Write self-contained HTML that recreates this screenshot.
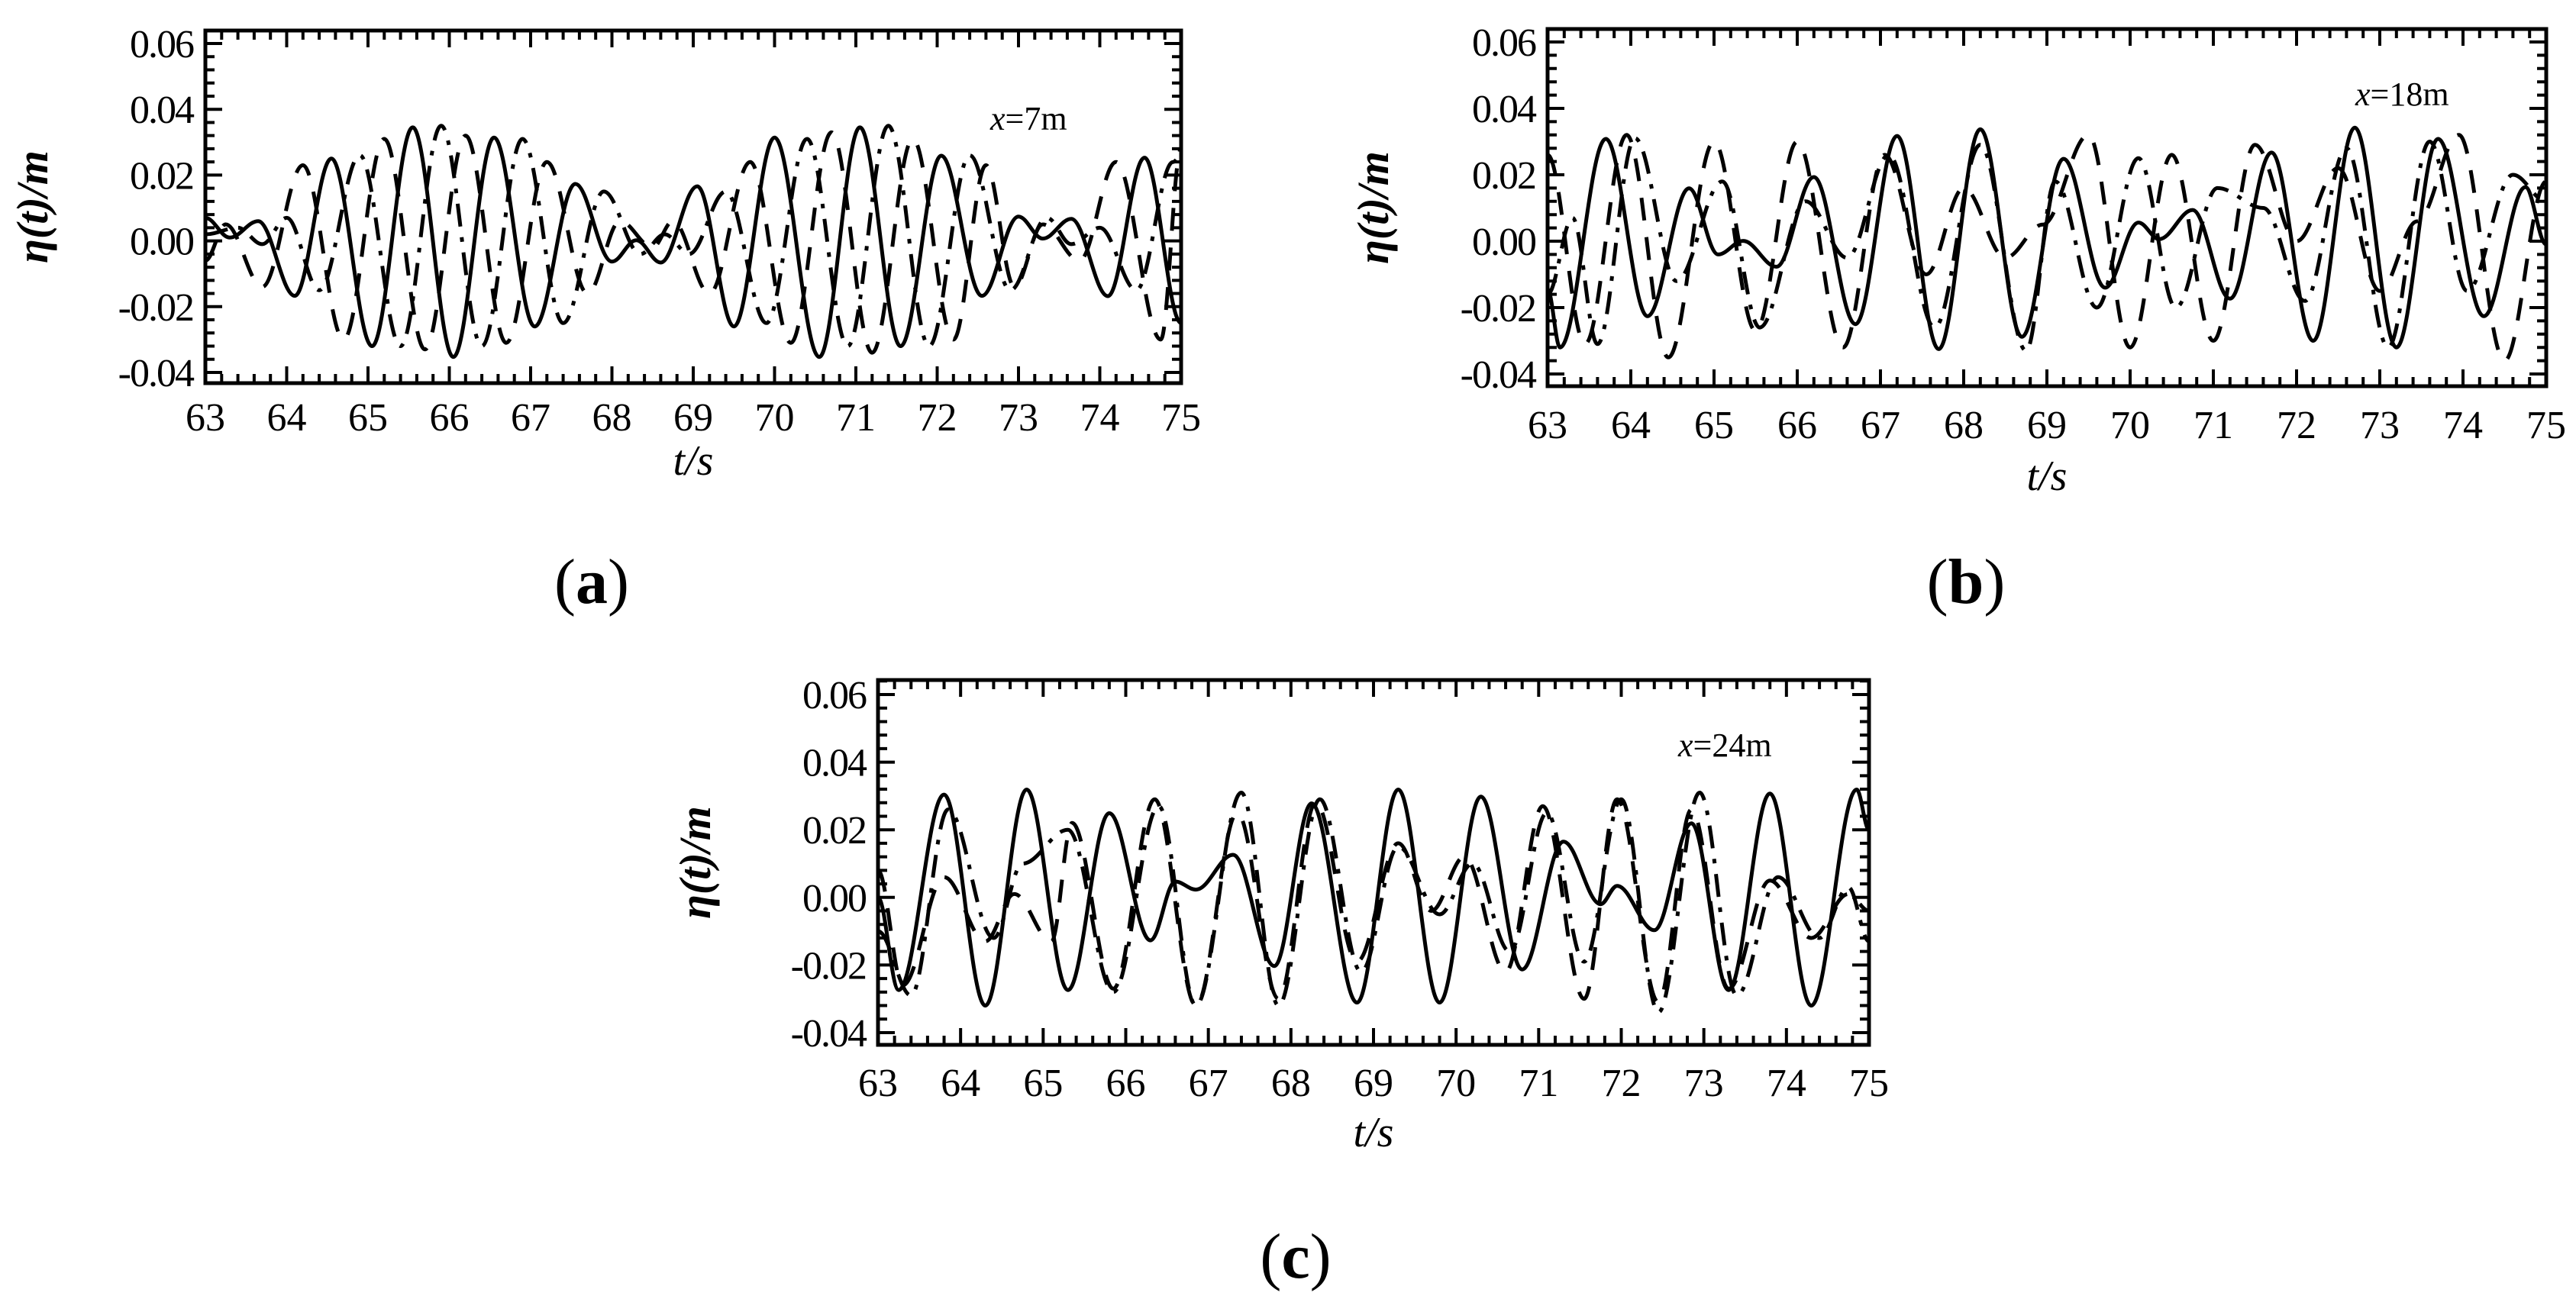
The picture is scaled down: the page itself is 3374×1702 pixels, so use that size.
<!DOCTYPE html>
<html><head><meta charset="utf-8"><style>
html,body{margin:0;padding:0;background:#fff;}
svg{display:block;}
text{font-family:"Liberation Serif",serif;fill:#000;}
</style></head><body>
<svg id="fig" width="3374" height="1702" viewBox="0 0 3374 1702" xmlns="http://www.w3.org/2000/svg"></svg>
<script>
// ---- panel (a) x=7m ----
const aSolidT=[63,63.3,63.65,64.1,64.55,65.05,65.55,66.05,66.55,67.05,67.55,68.0,68.3,68.6,69.05,69.5,70.0,70.55,71.05,71.55,72.05,72.55,73.0,73.3,73.65,74.1,74.55,75.0];
const aSolidV=[0.007,0.001,0.006,-0.0167,0.025,-0.032,0.0345,-0.0353,0.0314,-0.026,0.0173,-0.0063,0.0002,-0.0066,0.0166,-0.026,0.0314,-0.0353,0.0345,-0.032,0.0259,-0.0167,0.0074,0.0007,0.0067,-0.0168,0.0253,-0.025];
const aDashT=[63,63.25,63.7,64.2,64.7,65.2,65.7,66.2,66.7,67.2,67.7,68.1,68.5,68.75,69.2,69.7,70.2,70.7,71.2,71.7,72.2,72.6,72.95,73.3,73.75,74.2,74.75,75];
const aDashV=[-0.006,0.005,-0.014,0.023,-0.030,0.031,-0.033,0.032,-0.031,0.024,-0.016,0.006,-0.002,0.006,-0.016,0.024,-0.031,0.033,-0.034,0.031,-0.030,0.023,-0.014,0.005,-0.006,0.024,-0.030,0.028];
const aDotT=[63,63.4,63.7,64.0,64.4,64.9,65.4,65.9,66.4,66.9,67.4,67.9,68.35,68.65,68.95,69.4,69.9,70.4,70.9,71.4,71.9,72.4,72.9,73.35,73.65,74.0,74.45,74.9,75];
const aDotV=[0.002,0.004,-0.001,0.007,-0.015,0.026,-0.032,0.035,-0.032,0.031,-0.025,0.015,-0.004,0.002,-0.004,0.015,-0.025,0.031,-0.032,0.035,-0.032,0.026,-0.015,0.007,-0.001,0.004,-0.015,0.024,0.026];
// ---- panel (b) x=18m ----
const bSolidT=[63,63.15,63.7,64.2,64.7,65.05,65.35,65.75,66.2,66.7,67.2,67.7,68.2,68.7,69.2,69.7,70.1,70.35,70.75,71.2,71.7,72.2,72.7,73.2,73.7,74.25,74.75,75];
const bSolidV=[-0.0145,-0.032,0.0308,-0.0226,0.0159,-0.004,0.0001,-0.0077,0.0193,-0.025,0.0317,-0.0325,0.0337,-0.0288,0.0248,-0.014,0.0056,0.0006,0.0094,-0.0173,0.0267,-0.030,0.0342,-0.032,0.0308,-0.0226,0.0163,-0.001];
const bDashT=[63,63.45,63.95,64.45,65.0,65.5,66.0,66.55,67.05,67.55,68.0,68.5,68.95,69.5,70.0,70.5,71.0,71.5,72.0,72.5,73.0,73.45,73.95,74.5,75];
const bDashV=[0.026,-0.031,0.032,-0.035,0.030,-0.027,0.030,-0.032,0.026,-0.010,0.016,-0.005,0.005,0.032,-0.032,0.026,-0.030,0.029,0.000,0.022,-0.015,0.006,0.032,-0.036,0.018];
const bDotT=[63,63.3,63.6,64.05,64.55,65.1,65.55,66.1,66.6,67.1,67.65,68.2,68.75,69.1,69.6,70.1,70.55,71.05,71.6,72.1,72.6,73.1,73.6,74.05,74.6,75];
const bDotV=[-0.016,0.007,-0.031,0.031,-0.012,0.018,-0.026,0.012,-0.005,0.026,-0.026,0.029,-0.033,0.018,-0.020,0.025,-0.020,0.016,0.010,-0.018,0.028,-0.032,0.030,-0.015,0.020,0.012];
// ---- panel (c) x=24m ----
const cSolidT=[63,63.25,63.8,64.3,64.8,65.3,65.8,66.3,66.6,66.85,67.3,67.8,68.25,68.8,69.3,69.8,70.3,70.8,71.3,71.75,71.95,72.4,72.85,73.3,73.8,74.3,74.85,75];
const cSolidV=[0.0,-0.0274,0.0304,-0.032,0.0319,-0.0274,0.0249,-0.0127,0.0047,0.0023,0.0126,-0.0203,0.0278,-0.0311,0.0319,-0.0311,0.0298,-0.0213,0.0165,-0.002,0.0034,-0.0097,0.0219,-0.0274,0.0307,-0.032,0.0319,0.02];
const cDashT=[63,63.3,63.8,64.3,64.65,65.1,65.35,65.85,66.35,66.85,67.35,67.85,68.3,68.8,69.3,69.7,70.1,70.6,71.05,71.55,71.95,72.45,72.85,73.3,73.8,74.3,74.75,75];
const cDashV=[0.008,-0.026,0.006,-0.013,0.001,-0.013,0.022,-0.027,0.029,-0.032,0.025,-0.030,0.028,-0.019,0.016,-0.004,0.012,-0.022,0.027,-0.030,0.029,-0.031,0.026,-0.027,0.005,-0.012,0.001,-0.004];
const cDotT=[63,63.4,63.85,64.4,64.75,65.3,65.85,66.4,66.85,67.4,67.85,68.35,68.85,69.3,69.8,70.2,70.65,71.1,71.55,72.0,72.45,72.95,73.4,73.9,74.4,74.75,75];
const cDotV=[-0.010,-0.029,0.026,-0.012,0.010,0.020,-0.028,0.027,-0.032,0.031,-0.032,0.029,-0.022,0.015,-0.005,0.010,-0.016,0.025,-0.019,0.029,-0.034,0.031,-0.029,0.006,-0.012,0.003,-0.013];

const xTicks=[63,64,65,66,67,68,69,70,71,72,73,74,75];
const yTicks=[-0.04,-0.02,0.00,0.02,0.04,0.06];
const yTickLabels=["-0.04","-0.02","0.00","0.02","0.04","0.06"];

const NS="http://www.w3.org/2000/svg";
const svg=document.getElementById('fig');
function mk(tag,attrs,parent){const e=document.createElementNS(NS,tag);for(const k in attrs)e.setAttribute(k,attrs[k]);(parent||svg).appendChild(e);return e;}

const panels=[
 {id:'a',label:'x',lab2:'=7m',L:269,R:1547,T:40,B:502,y06:57,y04:488,tickY:546,titleY:622,capX:775,capY:790,ylabX:62,labDy:130,
  series:[[aSolidT,aSolidV,'solid'],[aDashT,aDashV,'dashed'],[aDotT,aDotV,'dashdot']]},
 {id:'b',label:'x',lab2:'=18m',L:2027,R:3335,T:38,B:506,y06:55,y04:490,tickY:556,titleY:642,capX:2575,capY:790,ylabX:1818,labDy:100,
  series:[[bSolidT,bSolidV,'solid'],[bDashT,bDashV,'dashed'],[bDotT,bDotV,'dashdot']]},
 {id:'c',label:'x',lab2:'=24m',L:1150,R:2448,T:891,B:1369,y06:910,y04:1353,tickY:1418,titleY:1502,capX:1697,capY:1674,ylabX:930,labDy:100,
  series:[[cSolidT,cSolidV,'solid'],[cDashT,cDashV,'dashed'],[cDotT,cDotV,'dashdot']]}
];

panels.forEach(p=>{
 const g=mk('g',{});
 
 
 const xs=t=>p.L+(t-63)/12*(p.R-p.L);
 const ys=v=>p.y06+(0.06-v)/0.1*(p.y04-p.y06);
 const cp=mk('clipPath',{id:'clip'+p.id},g);
 mk('rect',{x:p.L,y:p.T,width:p.R-p.L,height:p.B-p.T},cp);
 p.series.forEach(([T,V,style])=>{
  let d='M'+xs(T[0]).toFixed(1)+','+ys(V[0]).toFixed(1);
  for(let i=1;i<T.length;i++){
   const x0=xs(T[i-1]),y0=ys(V[i-1]),x1=xs(T[i]),y1=ys(V[i]),dx=x1-x0;
   d+=' C'+(x0+0.36*dx).toFixed(1)+','+y0.toFixed(1)+' '+(x1-0.36*dx).toFixed(1)+','+y1.toFixed(1)+' '+x1.toFixed(1)+','+y1.toFixed(1);
  }
  const attrs={d:d,fill:'none',stroke:'#000','stroke-width':5,'clip-path':'url(#clip'+p.id+')'};
  if(style==='dashed')attrs['stroke-dasharray']='30 22';
  if(style==='dashdot')attrs['stroke-dasharray']='30 14 6 14';
  const path=mk('path',attrs,g);
  
  
 });
 let tk='';
 for(let i=0;i<=60;i++){const x=xs(63+i*0.2);const len=(i%5===0)?22:12;
  tk+='M'+x+','+p.B+'v-'+len+'M'+x+','+p.T+'v'+len;}
 for(let i=0;i<=27;i++){const v=-0.044+i*0.004;const y=ys(v);if(y<p.T||y>p.B)continue;
  const major=Math.abs(Math.round(v/0.02)*0.02-v)<1e-6;const len=major?22:12;
  tk+='M'+p.L+','+y+'h'+len+'M'+p.R+','+y+'h-'+len;}
 const ticks=mk('path',{d:tk,stroke:'#000','stroke-width':4,fill:'none'},g);
 
 
 const fr=mk('rect',{x:p.L,y:p.T,width:p.R-p.L,height:p.B-p.T,fill:'none',stroke:'#000','stroke-width':5},g);
 
 
 xTicks.forEach(t=>{const e=mk('text',{x:xs(t),y:p.tickY+18,'text-anchor':'middle','font-size':52},g);e.textContent=t;
  
  });
 yTicks.forEach((v,i)=>{const e=mk('text',{x:p.L-16,y:ys(v)+18,'text-anchor':'end','font-size':52,'letter-spacing':-2},g);e.textContent=yTickLabels[i];
  
  });
 const xt=mk('text',{x:(p.L+p.R)/2,y:p.titleY,'text-anchor':'middle','font-size':56,'font-style':'italic'},g);
 xt.textContent='t/s';
 
 
 const yt=mk('text',{x:0,y:0,'text-anchor':'middle','font-size':58,'font-style':'italic','font-weight':'bold',transform:'translate('+p.ylabX+','+((p.T+p.B)/2)+') rotate(-90)'},g);
 yt.textContent='η(t)/m';
 
 
 const lb=mk('text',{x:p.R-250,y:p.T+p.labDy,'font-size':44},g);
 const it=mk('tspan',{'font-style':'italic'},lb);it.textContent=p.label;
 const rest=mk('tspan',{},lb);rest.textContent=p.lab2;
 
 
 const cap=mk('text',{x:p.capX,y:p.capY,'text-anchor':'middle','font-size':84},g);
 const o=mk('tspan',{},cap);o.textContent='(';
 const bb=mk('tspan',{'font-weight':'bold'},cap);bb.textContent=p.id;
 const c2=mk('tspan',{},cap);c2.textContent=')';
 
 
});
</script>
</body></html>
